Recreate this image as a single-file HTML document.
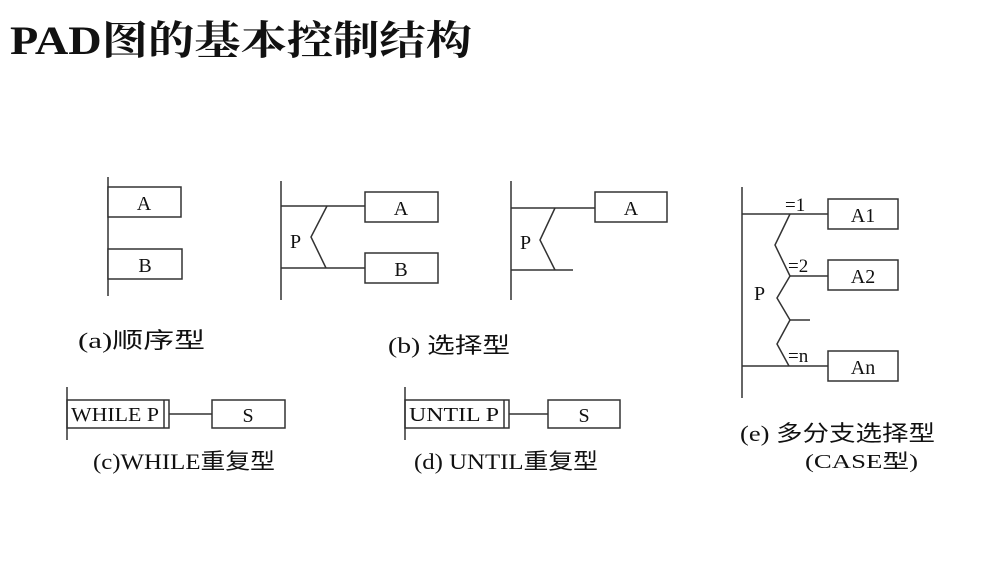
<!DOCTYPE html>
<html><head><meta charset="utf-8"><style>
body{margin:0;background:#fff;width:985px;height:569px;overflow:hidden}
svg text{font-family:"Liberation Serif","Noto Serif CJK SC",serif;fill:#111}
.l{font-family:"Liberation Serif","Noto Sans CJK SC",sans-serif;}
</style></head><body>
<svg width="985" height="569" viewBox="0 0 985 569" xmlns="http://www.w3.org/2000/svg">
<text x="10" y="54" font-size="40" font-weight="bold" textLength="462" lengthAdjust="spacingAndGlyphs" style="font-family:'Liberation Serif','Noto Serif CJK SC',serif">PAD图的基本控制结构</text>
<g stroke="#333" stroke-width="1.5" fill="none">
<line x1="108" y1="177" x2="108" y2="296"/>
<rect x="108" y="187" width="73" height="30" fill="#fff"/>
<rect x="108" y="249" width="74" height="30" fill="#fff"/>
<line x1="281" y1="181" x2="281" y2="300"/>
<line x1="281" y1="206" x2="365" y2="206"/>
<line x1="281" y1="268" x2="365" y2="268"/>
<polyline points="327,206 311,237 326,268"/>
<rect x="365" y="192" width="73" height="30"/>
<rect x="365" y="253" width="73" height="30"/>
<line x1="511" y1="181" x2="511" y2="300"/>
<line x1="511" y1="208" x2="595" y2="208"/>
<line x1="511" y1="270" x2="573" y2="270"/>
<polyline points="555,208 540,240 555,270"/>
<rect x="595" y="192" width="72" height="30"/>
<line x1="742" y1="187" x2="742" y2="398"/>
<line x1="742" y1="214" x2="828" y2="214"/>
<line x1="790" y1="276" x2="828" y2="276"/>
<line x1="790" y1="320" x2="810" y2="320"/>
<line x1="742" y1="366" x2="828" y2="366"/>
<polyline points="790,214 775,245 790,276 777,298 790,320 777,344 789,366"/>
<rect x="828" y="199" width="70" height="30"/>
<rect x="828" y="260" width="70" height="30"/>
<rect x="828" y="351" width="70" height="30"/>
<line x1="67" y1="387" x2="67" y2="440"/>
<rect x="67" y="400" width="102" height="28"/>
<line x1="164" y1="400" x2="164" y2="428"/>
<line x1="169" y1="414" x2="212" y2="414"/>
<rect x="212" y="400" width="73" height="28"/>
<line x1="405" y1="387" x2="405" y2="440"/>
<rect x="405" y="400" width="104" height="28"/>
<line x1="504" y1="400" x2="504" y2="428"/>
<line x1="509" y1="414" x2="548" y2="414"/>
<rect x="548" y="400" width="72" height="28"/>
</g>
<g font-size="20" text-anchor="middle">
<text x="144" y="210">A</text><text x="145" y="272">B</text>
<text x="401" y="215">A</text><text x="401" y="276">B</text>
<text x="631" y="215">A</text>
<text x="863" y="222">A1</text><text x="863" y="283">A2</text><text x="863" y="374">An</text>
<text x="248" y="422">S</text><text x="584" y="422">S</text>
</g>
<g font-size="20">
<text x="290" y="248">P</text><text x="520" y="249">P</text><text x="754" y="300">P</text>
<text x="785" y="211" font-size="19">=1</text>
<text x="788" y="272" font-size="19">=2</text>
<text x="788" y="362" font-size="19">=n</text>
<text x="71" y="421" font-size="20" textLength="88" lengthAdjust="spacingAndGlyphs">WHILE P</text>
<text x="409" y="421" font-size="20" textLength="90" lengthAdjust="spacingAndGlyphs">UNTIL P</text>
</g>
<g font-size="22">
<text x="78" y="348" class="l" textLength="127" lengthAdjust="spacingAndGlyphs">(a)顺序型</text>
<text x="388" y="353" class="l" textLength="122" lengthAdjust="spacingAndGlyphs">(b) 选择型</text>
<text x="93" y="469" class="l" textLength="182" lengthAdjust="spacingAndGlyphs">(c)WHILE重复型</text>
<text x="414" y="469" class="l" textLength="184" lengthAdjust="spacingAndGlyphs">(d) UNTIL重复型</text>
<text x="740" y="441" class="l" textLength="195" lengthAdjust="spacingAndGlyphs">(e) 多分支选择型</text>
<text x="805" y="468" class="l" font-size="20" textLength="113" lengthAdjust="spacingAndGlyphs">(CASE型)</text>
</g>
</svg>
</body></html>
